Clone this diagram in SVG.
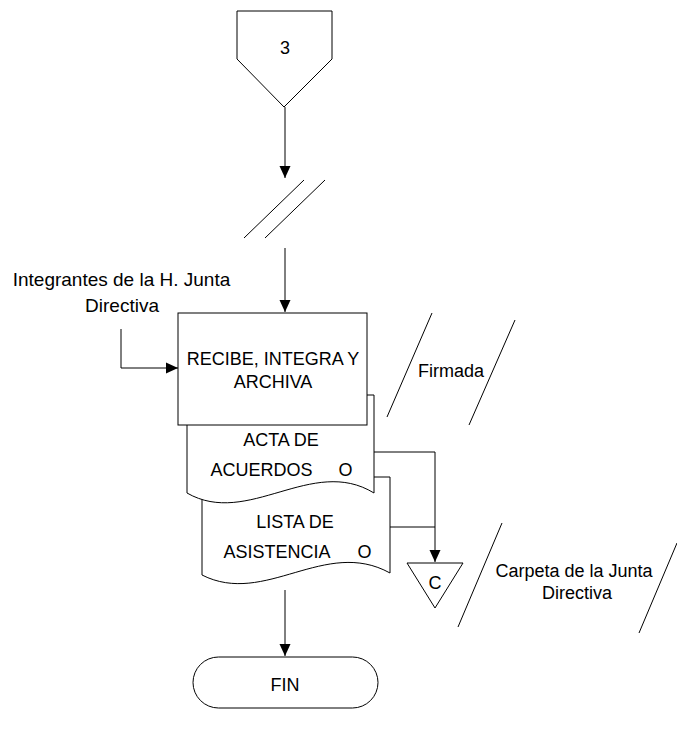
<svg xmlns="http://www.w3.org/2000/svg" width="677" height="730" viewBox="0 0 677 730">
  <defs>
    <marker id="arrow" viewBox="0 0 12 12" refX="12" refY="6" markerWidth="12" markerHeight="12" markerUnits="userSpaceOnUse" orient="auto">
      <path d="M0,0.5 L12,6 L0,11.5 Z" fill="#000"/>
    </marker>
    <style>
      .shape { fill: #fff; stroke: #000; stroke-width: 1; }
      .line { fill: none; stroke: #000; stroke-width: 1; }
      .arr { fill: none; stroke: #000; stroke-width: 1; marker-end: url(#arrow); }
      text { font-family: "Liberation Sans", Arial, sans-serif; font-size: 18px; fill: #000; }
      .c { text-anchor: middle; }
      .big { font-size: 19px; }
    </style>
  </defs>
  <rect width="677" height="730" fill="#fff"/>

  <!-- connectors -->
  <g id="connectors">
    <path class="arr" d="M285,107 V178"/>
    <line class="line" x1="244" y1="238" x2="304" y2="180"/>
    <line class="line" x1="265" y1="238" x2="325" y2="180"/>
    <path class="arr" d="M285,248 V312"/>
    <path class="arr" d="M121,329 V368 H178"/>
    <path class="line" d="M374,452 H435"/>
    <path class="line" d="M390,527 H435"/>
    <path class="arr" d="M435,452 V562"/>
    <path class="arr" d="M285,590 V656"/>
  </g>

  <!-- off-page connector -->
  <g id="offpage-3">
    <path class="shape" d="M237,11 H332 V59 L284,107 L237,59 Z"/>
    <text class="c" x="285" y="54">3</text>
  </g>

  <!-- participants -->
  <g id="integrantes">
    <text class="c big" x="121.5" y="286">Integrantes de la H. Junta</text>
    <text class="c big" x="122" y="312">Directiva</text>
  </g>

  <!-- documents (drawn behind the process box) -->
  <g id="lista-asistencia">
    <path class="shape" d="M202,477 H390 V573 C325,537 265,607 202,575 Z"/>
    <text class="c" x="295" y="528">LISTA DE</text>
    <text class="c" y="558"><tspan x="277">ASISTENCIA</tspan><tspan x="364.5">O</tspan></text>
  </g>
  <g id="acta-acuerdos">
    <path class="shape" d="M187,395 H374 V493 C312,455 248,528 187,493 Z"/>
    <text class="c" x="281" y="446">ACTA DE</text>
    <text class="c" y="476"><tspan x="261.5">ACUERDOS</tspan><tspan x="345.5">O</tspan></text>
  </g>

  <!-- process -->
  <g id="recibe">
    <rect class="shape" x="178" y="313" width="189" height="112"/>
    <text class="c" x="273" y="365">RECIBE, INTEGRA Y</text>
    <text class="c" x="273" y="388">ARCHIVA</text>
  </g>

  <!-- annotation: Firmada -->
  <g id="firmada">
    <line class="line" x1="387" y1="417" x2="432" y2="313"/>
    <line class="line" x1="469" y1="425" x2="515" y2="320"/>
    <text class="c" x="451" y="377">Firmada</text>
  </g>

  <!-- file -->
  <g id="archivo-c">
    <path class="shape" d="M407,563 H463 L435,608 Z"/>
    <text class="c" x="435" y="589">C</text>
  </g>

  <!-- annotation: Carpeta -->
  <g id="carpeta">
    <line class="line" x1="502" y1="523" x2="458" y2="627"/>
    <line class="line" x1="677" y1="543" x2="639" y2="633"/>
    <text class="c" x="574" y="577">Carpeta de la Junta</text>
    <text class="c" x="577" y="599">Directiva</text>
  </g>

  <!-- terminator -->
  <g id="fin">
    <rect class="shape" x="193" y="657" width="185" height="51" rx="25.5" ry="25.5"/>
    <text class="c" x="285" y="691">FIN</text>
  </g>
</svg>
